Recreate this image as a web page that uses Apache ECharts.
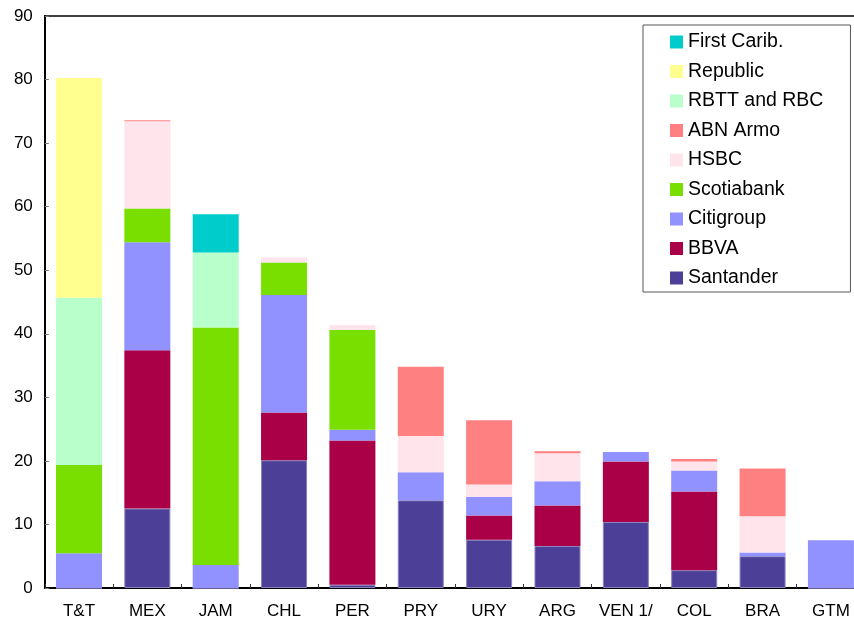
<!DOCTYPE html>
<html><head><meta charset="utf-8">
<script src="https://cdn.jsdelivr.net/npm/echarts@6/dist/echarts.min.js"></script>
<style>html,body{margin:0;padding:0;background:#fff}#c{width:854px;height:621px}</style>
</head><body><div id="c"></div>
<script>
const categories = ['T&T','MEX','JAM','CHL','PER','PRY','URY','ARG','VEN 1/','COL','BRA','GTM'];
const santander  = [0, 12.5, 0, 20.1, 0.5, 13.8, 7.6, 6.6, 10.4, 2.8, 5.0, 0];
const bbva       = [0, 24.9, 0, 7.5, 22.7, 0, 3.8, 6.4, 9.5, 12.4, 0, 0];
const citigroup  = [5.45, 17.0, 3.6, 18.5, 1.7, 4.4, 2.9, 3.8, 1.5, 3.3, 0.6, 7.5];
const scotiabank = [13.9, 5.3, 37.4, 5.1, 15.7, 0, 0, 0, 0, 0, 0, 0];
const hsbc       = [0, 13.75, 0, 0.8, 0.8, 5.7, 2.0, 4.4, 0, 1.4, 5.7, 0];
const abnArmo    = [0, 0.15, 0, 0, 0, 10.9, 10.1, 0.3, 0, 0.4, 7.5, 0];
const rbtt       = [26.3, 0, 11.8, 0, 0, 0, 0, 0, 0, 0, 0, 0];
const republic   = [34.6, 0, 0, 0, 0, 0, 0, 0, 0, 0, 0, 0];
const firstCarib = [0, 0, 6.0, 0, 0, 0, 0, 0, 0, 0, 0, 0];
const yTicks = [0,10,20,30,40,50,60,70,80,90];

const seriesDefs = [
  ['Santander', santander, '#4B3F98'],
  ['BBVA', bbva, '#AA0048'],
  ['Citigroup', citigroup, '#9191FF'],
  ['Scotiabank', scotiabank, '#78DF00'],
  ['HSBC', hsbc, '#FFE4EC'],
  ['ABN Armo', abnArmo, '#FF8080'],
  ['RBTT and RBC', rbtt, '#B8FFCC'],
  ['Republic', republic, '#FFFF8F'],
  ['First Carib.', firstCarib, '#00CCCC']
];
const FONT = 'Liberation Sans, Arial, sans-serif';
const chart = echarts.init(document.getElementById('c'), null, {renderer:'canvas'});
chart.setOption({
  animation:false,
  backgroundColor:'#fff',
  grid:{left:44.8, width:820.3, top:16, bottom:33, show:true, borderColor:'#000', borderWidth:1.5,
        containLabel:false, outerBoundsMode:'none'},
  legend:{
    orient:'vertical', left:643, top:25,
    data: seriesDefs.map(d=>d[0]).reverse(),
    itemWidth:13, itemHeight:13, itemGap:9.5, icon:'rect',
    itemStyle:{borderWidth:0},
    padding:[7, 27, 4, 27],
    borderColor:'#555', borderWidth:1, backgroundColor:'#fff',
    textStyle:{fontFamily:FONT, fontSize:19.5, lineHeight:20, color:'#000'}
  },
  xAxis:{
    type:'category', data:categories,
    axisLine:{lineStyle:{color:'#000', width:2}},
    axisTick:{show:true, inside:true, length:4, lineStyle:{color:'#333'}},
    axisLabel:{fontFamily:FONT, fontSize:17, color:'#000', margin:14.5, interval:0}
  },
  yAxis:{
    type:'value', min:0, max:90, interval:10,
    axisLine:{show:true, lineStyle:{color:'#000', width:2}},
    axisTick:{show:true, inside:true, length:4, lineStyle:{color:'#777'}},
    splitLine:{show:false},
    axisLabel:{fontFamily:FONT, fontSize:17, color:'#000', margin:12}
  },
  series: seriesDefs.map(d=>({
    name:d[0], type:'bar', stack:'total', data:d[1], barWidth:46,
    itemStyle: d[0]==='Santander' ? {color:d[2], borderColor:'#8a82bf', borderWidth:1} : {color:d[2]}
  }))
});
</script></body></html>
